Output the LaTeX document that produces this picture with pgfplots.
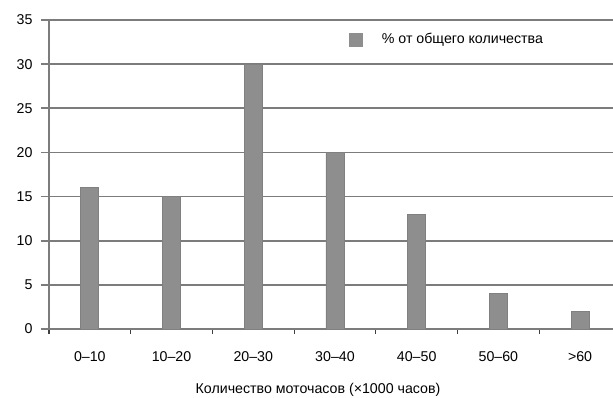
\documentclass[border=0pt]{standalone}
\usepackage{pgfplots}
\pgfplotsset{compat=1.18}
\usepackage{fontspec}
\setmainfont{Liberation Sans}
\definecolor{barfill}{HTML}{8E8E8E}
\definecolor{baredge}{HTML}{808080}
\definecolor{gridc}{HTML}{7C7C7C}
\begin{document}
\begin{tikzpicture}
\useasboundingbox (0pt,0pt) rectangle (613pt,397pt);
\begin{axis}[
  at={(49pt,68pt)}, anchor=south west,
  scale only axis, width=564pt, height=309pt,
  xmin=-0.5, xmax=6.403, ymin=0, ymax=35,
  font=\fontsize{14.2}{17}\selectfont,
  /pgf/number format/assume math mode=true,
  axis x line=bottom, axis y line=left,
  axis line style={draw=gridc, line width=1.6pt, -},
  ytick={0,5,...,35},
  ymajorgrids, grid style={draw=gridc, line width=1.6pt},
  y tick style={draw=gridc, line width=1.6pt},
  major tick length=8pt,
  tick align=outside,
  yticklabel style={xshift=-5pt},
  xtick={0,...,6},
  xticklabels={0--10,10--20,20--30,30--40,40--50,50--60,>60},
  x tick style={draw=none},
  xticklabel style={yshift=-11pt},
  minor xtick={-0.5,0.5,1.5,2.5,3.5,4.5,5.5},
  minor x tick style={draw=black!75, line width=1.2pt},
  minor tick length=5pt,
  xlabel={Количество моточасов (×1000 часов)},
  xlabel style={at={(axis description cs:0.477,0)}, anchor=center, yshift=-61pt},
  legend style={at={(axis cs:3.17,32.8)}, anchor=west, draw=none, fill=white,
    inner sep=0pt, font=\fontsize{14.2}{17}\selectfont},
  legend image code/.code={\fill[barfill] (0pt,-6.5pt) rectangle (13pt,6.5pt);},
  legend cell align=left,
  legend style={/tikz/every even column/.append style={column sep=0pt}},
]
\addplot[ybar, bar width=18pt, fill=barfill, draw=baredge, line width=0.8pt]
  coordinates {(0,16) (1,15) (2,30) (3,20) (4,13) (5,4) (6,2)};
\addlegendentry{\hspace{17pt}\% от общего количества}
\end{axis}
\end{tikzpicture}
\end{document}
